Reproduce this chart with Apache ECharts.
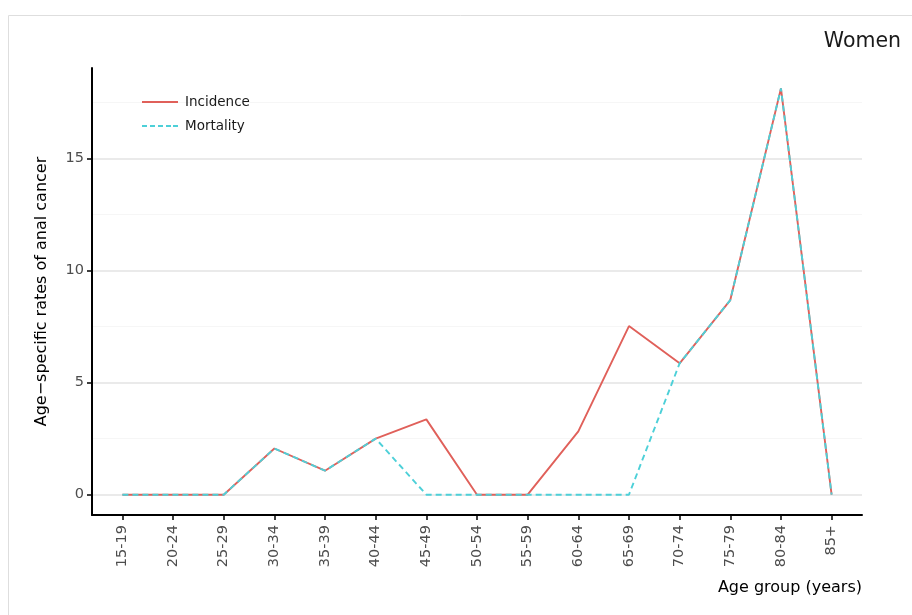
<!DOCTYPE html>
<html>
<head>
<meta charset="utf-8">
<script src="https://cdn.jsdelivr.net/npm/echarts@6/dist/echarts.min.js"></script>
<style>html,body{margin:0;padding:0;background:#fff}#c{width:912px;height:615px}</style>
</head>
<body>
<div id="c"></div>
<script>
const categories = ['15-19','20-24','25-29','30-34','35-39','40-44','45-49','50-54','55-59','60-64','65-69','70-74','75-79','80-84','85+'];
const incidence = [0, 0, 0, 2.06, 1.07, 2.5, 3.36, 0, 0, 2.82, 7.52, 5.86, 8.68, 18.12, 0];
const mortality = [0, 0, 0, 2.06, 1.07, 2.5, 0, 0, 0, 0, 0, 5.86, 8.68, 18.12, 0];
const yTicks = [0, 5, 10, 15];
const yMinor = [2.5, 7.5, 12.5, 17.5];

const chart = echarts.init(document.getElementById('c'), null, {renderer: 'canvas'});
const idx = categories.map((_, i) => i);
const font = 'DejaVu Sans';
const solidIcon = 'path://M0,0h36v1.8h-36z';
const dashIcon = 'path://M0,0h5v1.8h-5z M8,0h5v1.8h-5z M16,0h5v1.8h-5z M24,0h5v1.8h-5z M31,0h5v1.8h-5z';
chart.setOption({
  animation: false,
  textStyle: {fontFamily: font},
  graphic: [
    {type: 'rect', shape: {x: 8.5, y: 15.5, width: 1000, height: 700}, style: {fill: 'none', stroke: '#dedede', lineWidth: 1}, z: -10},
    {type: 'text', right: 11, top: 31, style: {text: 'Women', fontSize: 20.5, fontFamily: font, fill: '#1a1a1a'}}
  ],
  legend: {
    orient: 'vertical', left: 142, top: 95, padding: 0, itemWidth: 36, itemHeight: 14, itemGap: 10, z: 50,
    textStyle: {fontSize: 13.5, color: '#1a1a1a', fontFamily: font, padding: [0, 0, 0, 2]},
    data: [
      {name: 'Incidence', icon: solidIcon, itemStyle: {color: '#E0605A'}},
      {name: 'Mortality', icon: dashIcon, itemStyle: {color: '#4DD0D8'}}
    ]
  },
  grid: {left: 92, right: 50, top: 68, bottom: 100, containLabel: false},
  xAxis: {
    type: 'value', min: -0.6, max: categories.length - 1 + 0.6,
    name: 'Age group (years)', nameLocation: 'end',
    nameGap: 0,
    nameTextStyle: {fontSize: 16, color: '#000', align: 'right', verticalAlign: 'top', padding: [65, 0, 0, 0]},
    axisLine: {show: true, onZero: false, lineStyle: {color: '#000', width: 2}},
    axisTick: {show: true, length: 5, lineStyle: {color: '#000', width: 1.5}, customValues: idx},
    axisLabel: {customValues: idx, rotate: 90, fontSize: 14.5, color: '#4d4d4d', margin: 10,
      formatter: v => categories[Math.round(v)]},
    splitLine: {show: false}
  },
  yAxis: {
    type: 'value', min: -0.906, max: 19.03,
    name: 'Age\u2212specific rates of anal cancer', nameLocation: 'middle', nameGap: 42,
    nameTextStyle: {fontSize: 16, color: '#000'},
    axisLine: {show: true, onZero: false, lineStyle: {color: '#000', width: 2}},
    axisTick: {show: true, length: 5, lineStyle: {color: '#000', width: 1.5}, customValues: yTicks},
    axisLabel: {customValues: yTicks, fontSize: 14.5, color: '#4d4d4d', margin: 8},
    splitLine: {show: true, lineStyle: {color: '#e3e3e3', width: 1.5}}
  },
  series: [
    {
      name: 'Incidence', type: 'line', data: incidence.map((v, i) => [i, v]),
      symbol: 'none', lineStyle: {color: '#E0605A', width: 1.9}, itemStyle: {color: '#E0605A'},
      markLine: {silent: true, symbol: 'none', label: {show: false}, z: 0,
        lineStyle: {color: '#f6f6f6', width: 1.2, type: 'solid'},
        data: yMinor.map(v => ({yAxis: v}))},
      z: 2
    },
    {
      name: 'Mortality', type: 'line', data: mortality.map((v, i) => [i, v]),
      symbol: 'none', lineStyle: {color: '#4DD0D8', width: 1.9, type: [6, 4]}, itemStyle: {color: '#4DD0D8'},
      z: 3
    }
  ]
});
</script>
</body>
</html>
